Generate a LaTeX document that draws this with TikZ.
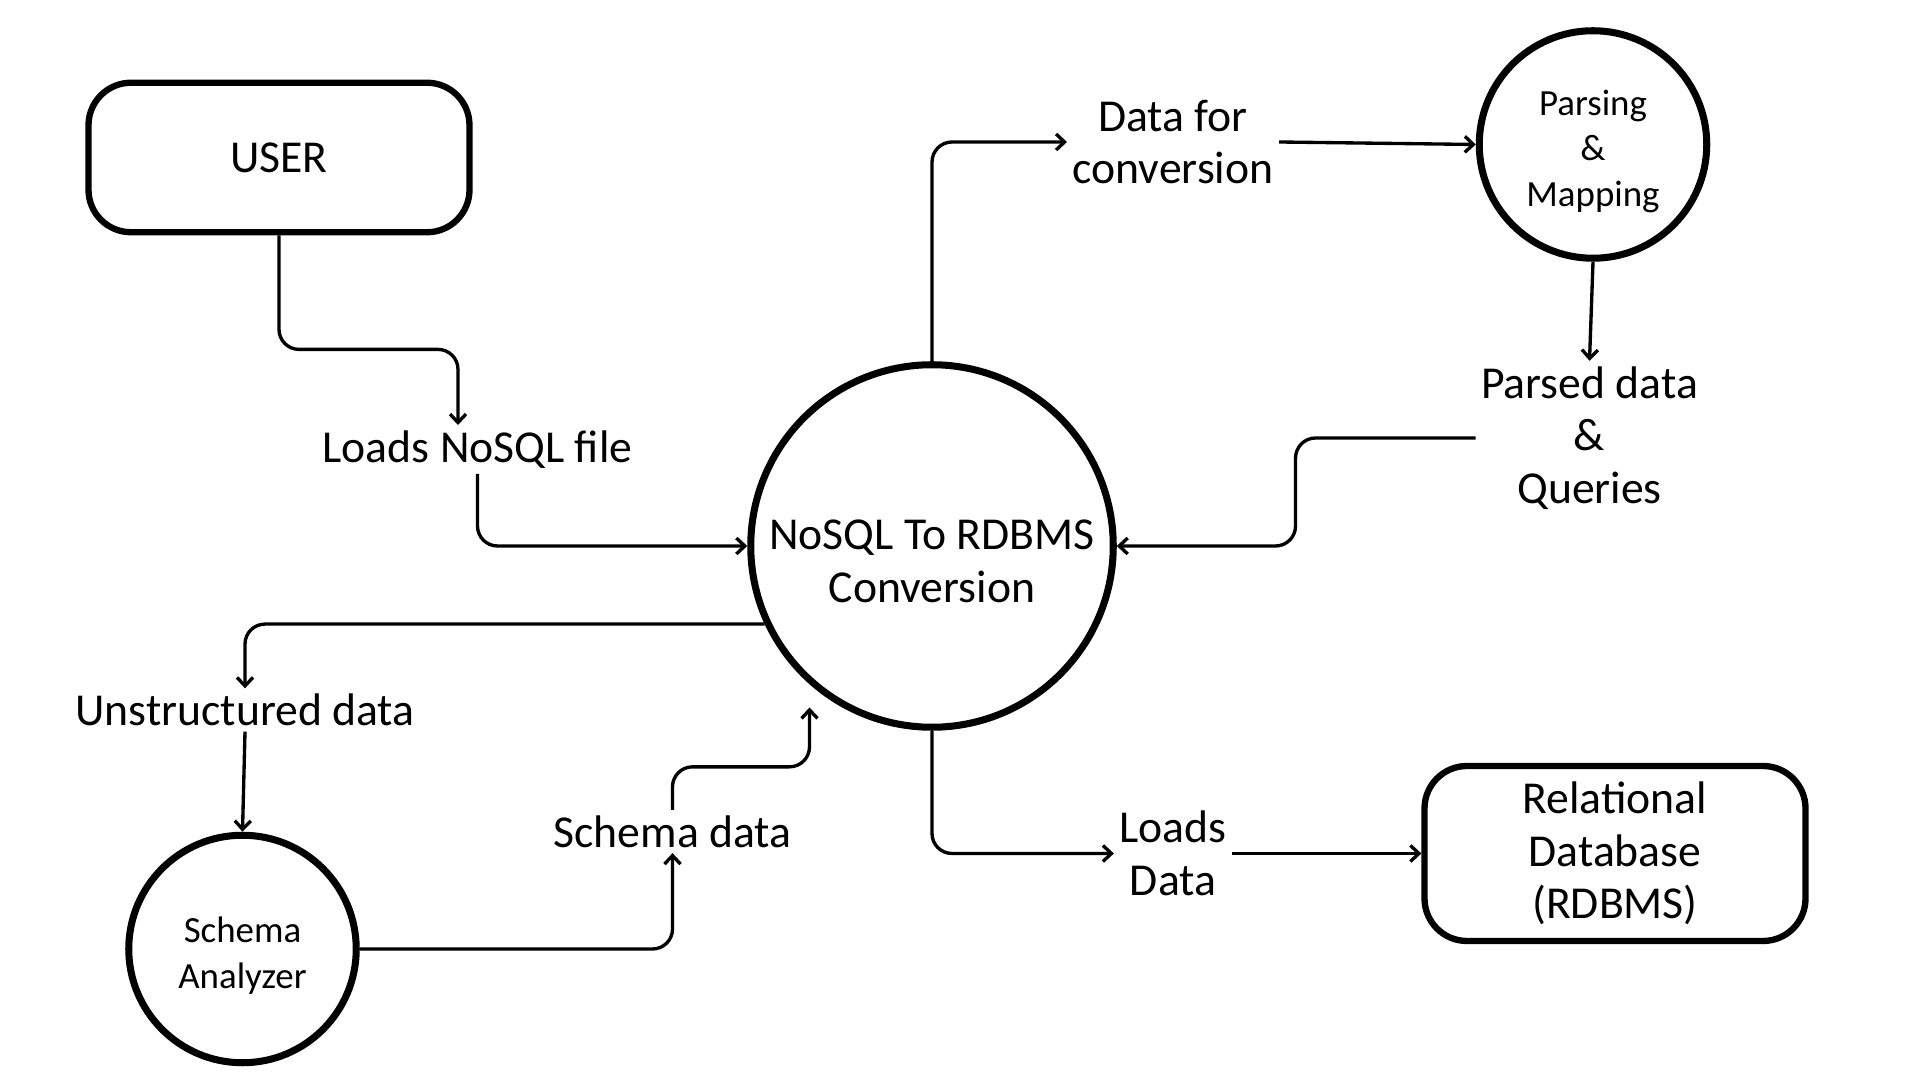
\documentclass[tikz,border=0pt]{standalone}
\usepackage{fontspec}
\setmainfont{Carlito}
\usetikzlibrary{positioning,arrows.meta,calc}

\begin{document}
\begin{tikzpicture}[
    process/.style={circle,draw=black,line width=4pt,minimum size=4.55cm,inner sep=0pt,align=center,font=\fontsize{21}{26}\selectfont},
    entity/.style={rectangle,rounded corners=0.85cm,draw=black,line width=3.6pt,minimum width=7.62cm,align=center,font=\fontsize{26}{30}\selectfont},
    flow/.style={align=center,inner sep=3pt,font=\fontsize{26}{30}\selectfont},
    arrow/.style={-{Straight Barb[length=1.7mm,width=3.2mm]},line width=1.9pt,rounded corners=0.4cm}
]
\useasboundingbox (0,0) rectangle (38.4,21.6);

% External entities
\node[entity,minimum height=2.99cm] (user) at (5.58,18.45) {USER};
\node[entity,minimum height=3.5cm] (rdbms) at (32.30,4.53) {Relational\\Database\\(RDBMS)};

% Processes
\node[process,minimum size=7.25cm,font=\fontsize{26}{30}\selectfont] (main) at (18.64,10.68) {\rule{0pt}{1.2cm}NoSQL To RDBMS\\Conversion};
\node[process] (parsing) at (31.86,18.71) {\rule{0pt}{0.78cm}Parsing\\\&\\Mapping};
\node[process] (schema) at (4.85,2.62) {\rule{0pt}{0.78cm}Schema\\Analyzer};

% Data flow labels
\node[flow] (loadfile) at (9.55,12.61) {Loads NoSQL file};
\node[flow] (datafor) at (23.46,18.76) {Data for\\conversion};
\node[flow] (parsed) at (31.79,12.84) {Parsed data\\\&\\Queries};
\node[flow] (unstructured) at (4.90,7.40) {Unstructured data};
\node[flow] (schemadata) at (13.45,4.97) {Schema data};
\node[flow] (loadsdata) at (23.46,4.53) {Loads\\Data};

\coordinate (sdin) at ([xshift=-2.45cm,yshift=-3.23cm]main.center);

% User to conversion
\draw[arrow] (user.south) -- ++(0,-2.28) -| ([xshift=-0.39cm]loadfile.north);
\draw[arrow] (loadfile.south) |- (main.west);

% Conversion to parsing and back
\draw[arrow] (main.north) |- (datafor.west);
\draw[arrow] (datafor.east) -- (parsing.west);
\draw[arrow] (parsing.south) -- (parsed.north);
\draw[arrow] (parsed.west) -- ++(-3.6,0) |- (main.east);

% Schema analysis loop
\draw[arrow] (main.205) -| (unstructured.north);
\draw[arrow] (unstructured.south) -- (schema.north);
\draw[arrow] (schema.east) -| (schemadata.south);
\draw[arrow] (schemadata.north) -- ++(0,0.86) -| (sdin);

% Output to database
\draw[arrow] (main.south) |- (loadsdata.west);
\draw[arrow] (loadsdata.east) -- (rdbms.west);

\end{tikzpicture}
\end{document}
